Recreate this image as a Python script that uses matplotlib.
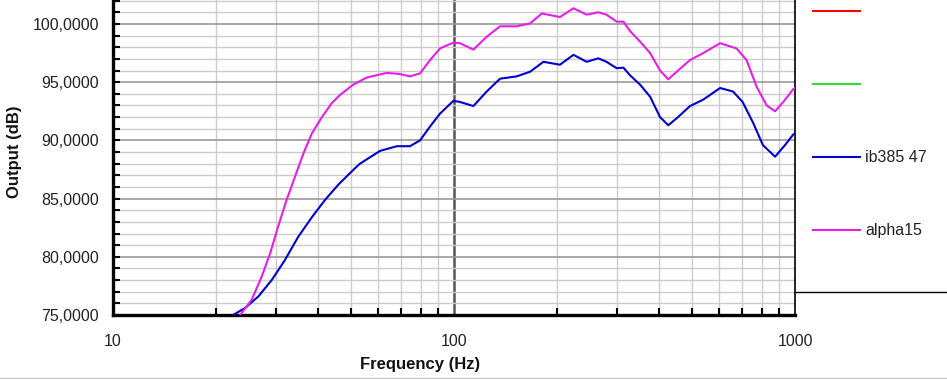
import numpy as np
import matplotlib
matplotlib.use("Agg")
import matplotlib.pyplot as plt
from matplotlib.lines import Line2D
from matplotlib.ticker import FixedLocator, FuncFormatter, NullFormatter

plt.rcParams['font.family'] = ['Liberation Sans', 'DejaVu Sans']

# frequency response
freq_alpha = [23.6, 25.5, 27.3, 28.9, 30.5, 32.3, 34.2, 36.2, 38.3, 41.0, 43.8, 46.3,
              50.7, 55.5, 63.5, 69.4, 74.3, 79.5, 85.1, 91.0, 99.6, 104.1, 114, 124.7,
              136.5, 152.8, 167.2, 180.9, 204.6, 224, 245, 265, 280, 300, 314, 328,
              351, 376, 402, 425, 454, 492, 538, 603, 674, 721, 772, 826, 874, 924,
              988, 1000]
db_alpha = [75.0, 76.3, 78.3, 80.3, 82.6, 84.9, 86.9, 88.9, 90.6, 92.0, 93.2, 93.9,
            94.8, 95.4, 95.8, 95.7, 95.5, 95.75, 96.9, 97.9, 98.4, 98.35, 97.8, 98.9,
            99.8, 99.8, 100.05, 100.9, 100.6, 101.35, 100.8, 101.0, 100.8, 100.2, 100.2,
            99.4, 98.5, 97.5, 96.0, 95.25, 96.0, 96.9, 97.5, 98.35, 97.9, 96.9, 94.6,
            93.0, 92.5, 93.3, 94.4, 94.5]

freq_ib = [22.5, 24.4, 26.7, 29.2, 31.9, 34.9, 38.3, 41.9, 45.8, 51.2, 53.0, 60.7,
           68.0, 74.3, 79.5, 85.1, 91.0, 99.6, 104.1, 114, 124.7, 136.5, 152.8, 167.2,
           182.9, 204.6, 224, 245, 265, 280, 300, 314, 328, 351, 376, 402, 425, 454,
           492, 538, 603, 658, 702, 754, 805, 874, 935, 988, 1000]
db_ib = [75.0, 75.6, 76.6, 78.0, 79.7, 81.7, 83.4, 84.9, 86.2, 87.6, 88.0, 89.1,
         89.5, 89.5, 90.0, 91.2, 92.3, 93.4, 93.3, 92.95, 94.2, 95.3, 95.5, 95.9,
         96.75, 96.5, 97.35, 96.75, 97.05, 96.75, 96.2, 96.25, 95.6, 94.8, 93.75, 92.0,
         91.3, 92.0, 92.95, 93.5, 94.5, 94.2, 93.3, 91.5, 89.6, 88.6, 89.6, 90.5, 90.6]

legend_labels = ['', '', 'ib385 47', 'alpha15']
legend_colors = ['#ff0000', '#33dd33', '#0000cc', '#e61ee6']

W, H = 947, 380
fig = plt.figure(figsize=(W / 100, H / 100), dpi=100)
ax = fig.add_axes([113 / W, 1 - 315 / H, (795 - 113) / W, 315 / H])

ax.plot(freq_ib, db_ib, color='#0000cc', lw=1.5, zorder=3)
ax.plot(freq_alpha, db_alpha, color='#e61ee6', lw=1.5, zorder=3)

ax.set_xscale('log')
ax.set_xlim(10, 1000)
ax.set_ylim(75, 102.06)

# grid
ax.xaxis.set_major_locator(FixedLocator([10, 100, 1000]))
minor_x = [m * d for d in (10, 100) for m in range(2, 10)]
ax.xaxis.set_minor_locator(FixedLocator(minor_x))
ax.xaxis.set_minor_formatter(NullFormatter())
ax.xaxis.set_major_formatter(FuncFormatter(lambda v, p: '%d' % v))
ax.yaxis.set_major_locator(FixedLocator(np.arange(75, 101, 5)))
ax.yaxis.set_minor_locator(FixedLocator(np.arange(75, 103, 1)))
ax.yaxis.set_major_formatter(FuncFormatter(lambda v, p: ('%.4f' % v).replace('.', ',')))

ax.grid(which='minor', axis='both', color='#cccccc', lw=1.0, zorder=0)
ax.grid(which='major', axis='y', color='#999999', lw=1.2, zorder=1)
ax.axvline(100, color='#555555', lw=1.8, zorder=1)

ax.tick_params(axis='y', which='both', direction='in', length=5, width=1.5,
               color='black', pad=10, labelsize=11.5, labelcolor='#222222')
ax.tick_params(axis='x', which='minor', direction='in', length=5, width=1.5, color='black')
ax.tick_params(axis='x', which='major', length=0, pad=14, labelsize=11.5, labelcolor='#222222')

ax.spines['top'].set_visible(False)
ax.spines['left'].set_linewidth(2.4)
ax.spines['bottom'].set_linewidth(2.4)
ax.spines['right'].set_linewidth(1.2)

fig.text(420 / W, 1 - 364 / H, 'Frequency (Hz)', ha='center', va='center',
         fontsize=12, fontweight='bold', color='#111111')
fig.text(15 / W, 1 - 152 / H, 'Output (dB)', ha='center', va='center', rotation=90,
         fontsize=12, fontweight='bold', color='#111111')

# legend panel on the right
for i, (lab, col) in enumerate(zip(legend_labels, legend_colors)):
    y = 1 - (11 + 73 * i) / H
    fig.add_artist(Line2D([813 / W, 860 / W], [y, y], color=col, lw=1.5))
    if lab:
        fig.text(865 / W, y, lab, ha='left', va='center', fontsize=11.5, color='#222222')
fig.add_artist(Line2D([795 / W, 1.0], [1 - 292 / H, 1 - 292 / H], color='black', lw=1.0))
fig.add_artist(Line2D([0, 1.0], [1 - 378 / H, 1 - 378 / H], color='#c8c8c8', lw=1.0))

fig.savefig('out.png', dpi=100)
